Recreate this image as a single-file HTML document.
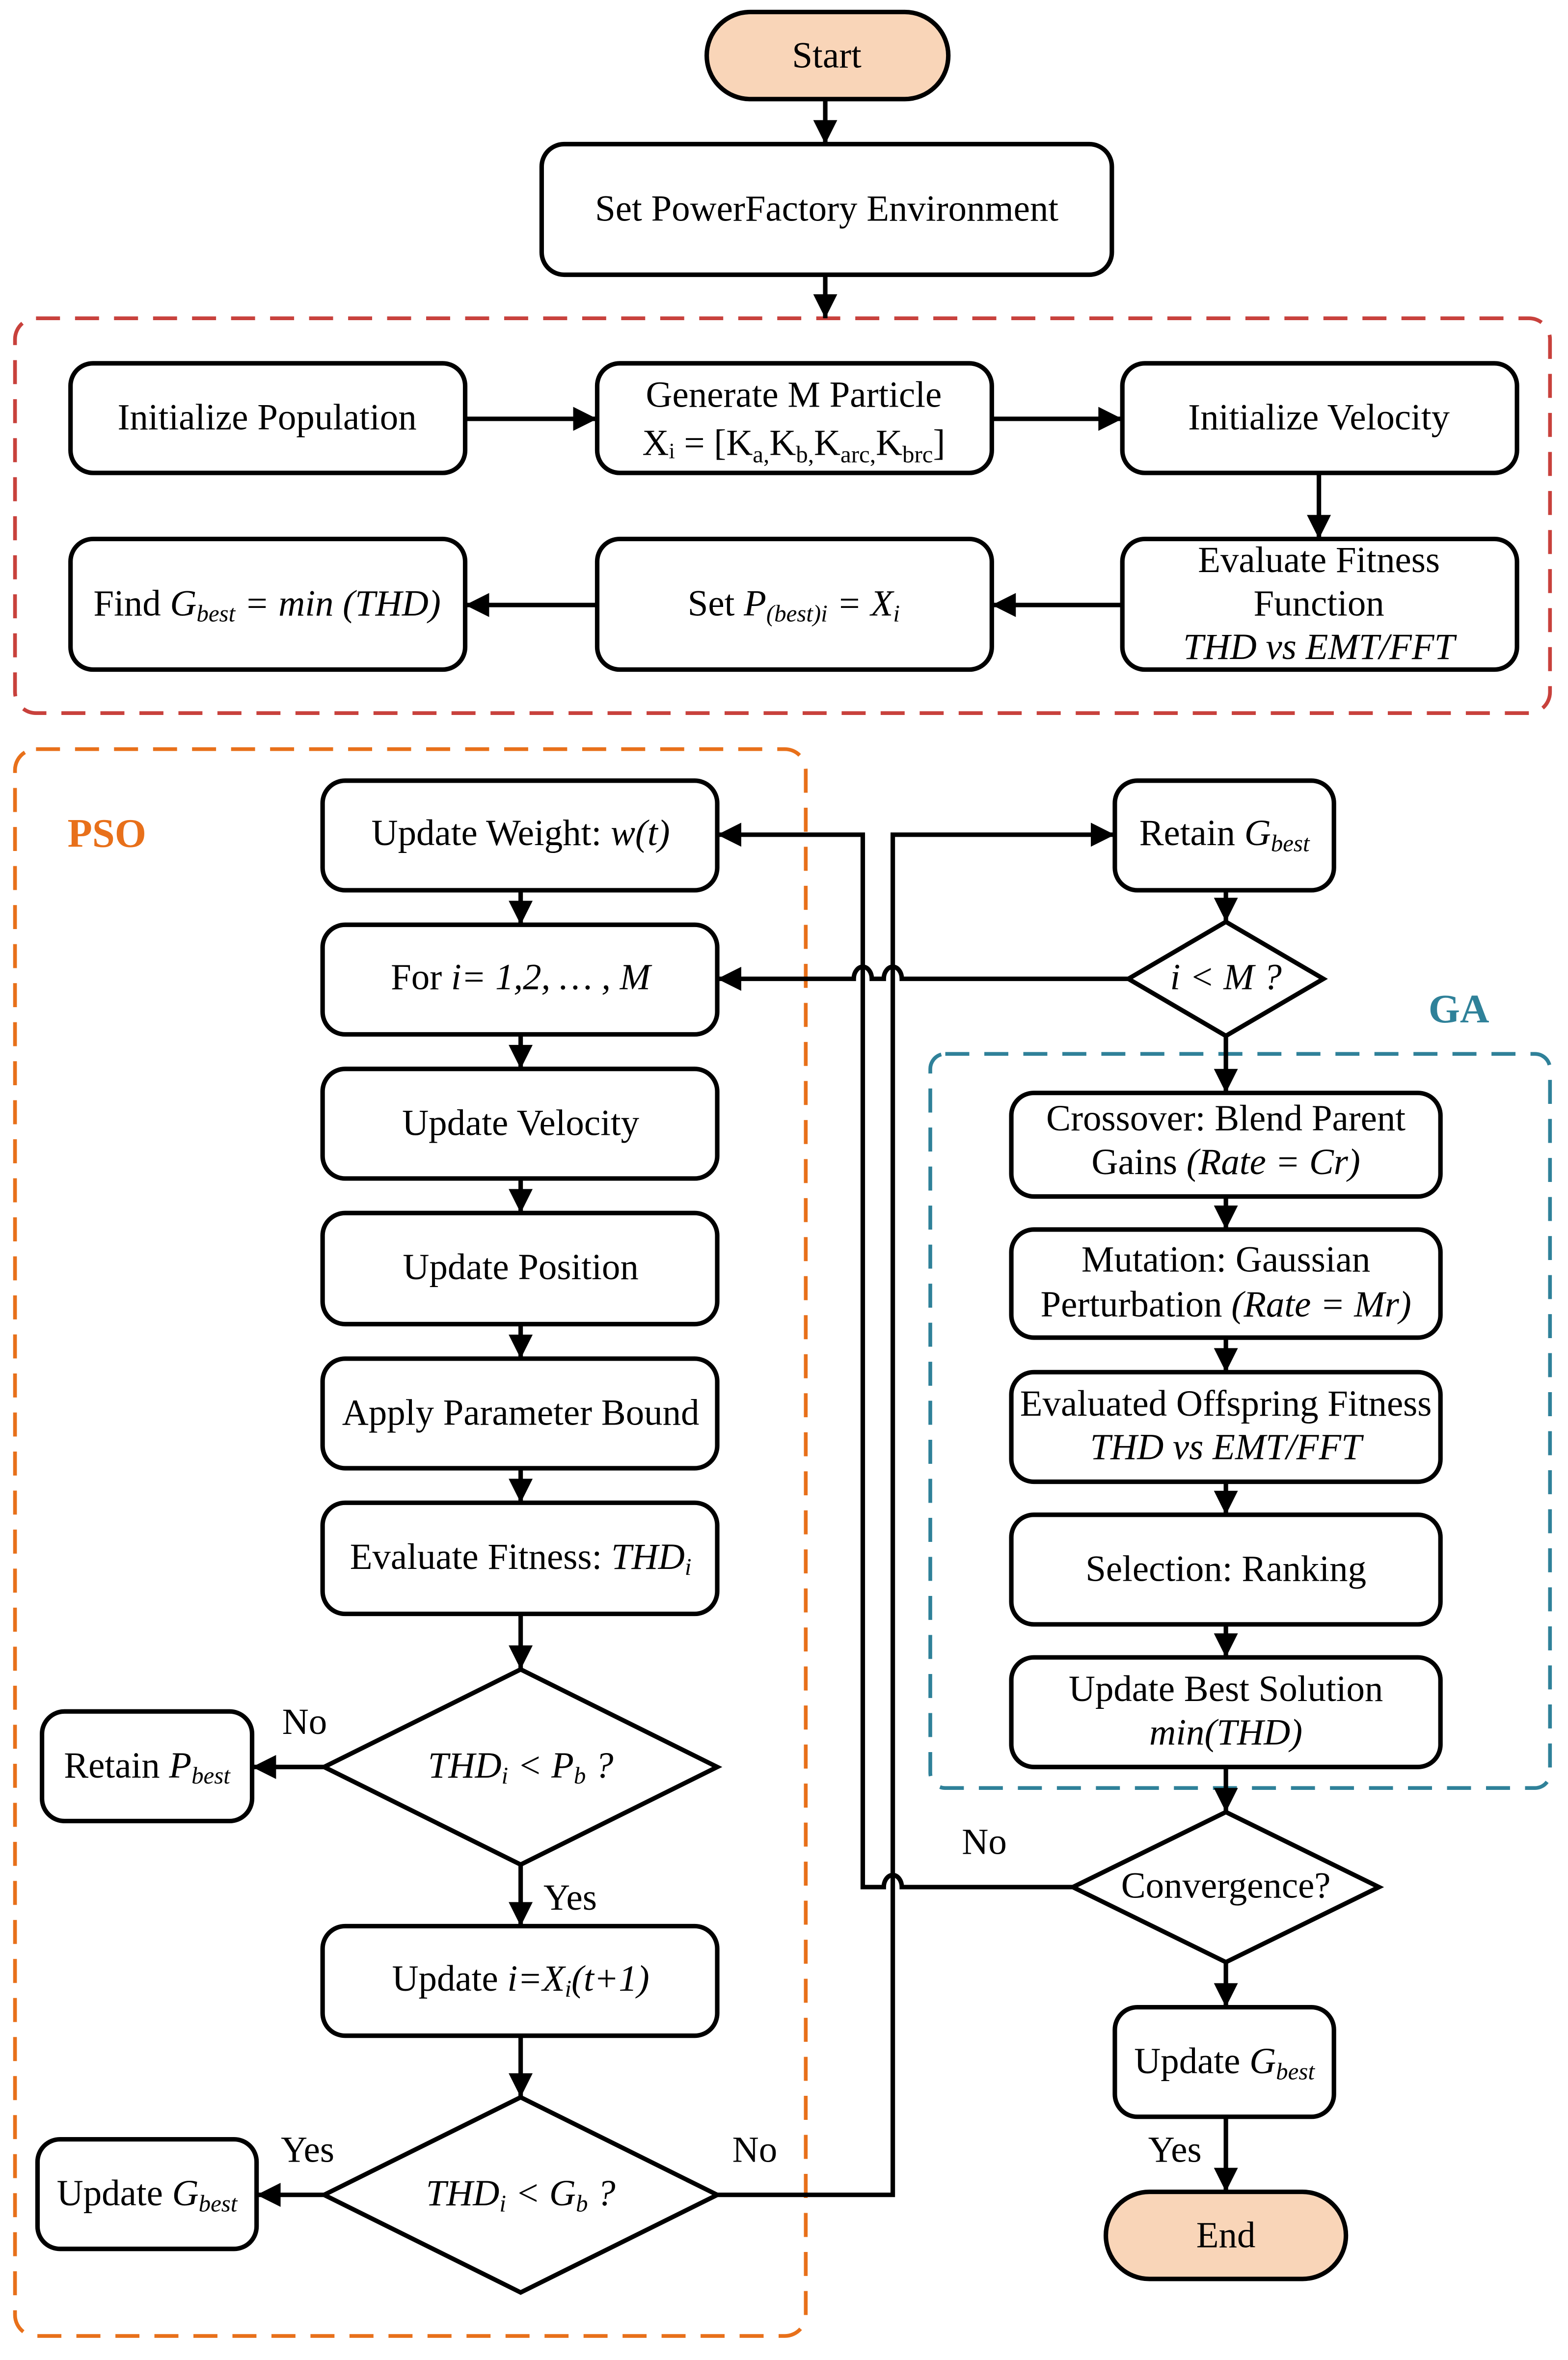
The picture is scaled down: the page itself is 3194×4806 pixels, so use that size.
<!DOCTYPE html>
<html><head><meta charset="utf-8"><style>html,body{margin:0;padding:0;background:#fff}svg{display:block}</style></head>
<body>
<svg xmlns="http://www.w3.org/2000/svg" width="3194" height="4806" viewBox="0 0 1045 1572" preserveAspectRatio="none" font-family="Liberation Serif, serif" font-size="24.5">
<defs>
<marker id="b" viewBox="0 0 10 10" refX="10" refY="5" markerWidth="20" markerHeight="16" markerUnits="userSpaceOnUse" orient="auto"><path d="M0,0L10,5L0,10z" fill="#000"/></marker>
</defs>
<g fill="none" stroke-width="2.5">
<rect x="10" y="212" width="1023" height="263" rx="14" stroke="#c8413c" stroke-dasharray="16,10"/>
<rect x="10" y="499" width="527" height="1057" rx="14" stroke="#e8701a" stroke-dasharray="16,10"/>
<rect x="620" y="702" width="413" height="489" rx="10" stroke="#2f8199" stroke-dasharray="16,10"/>
</g>
<g stroke="#000" stroke-width="3" fill="#fff">
<rect x="471" y="8" width="161" height="58" rx="29" fill="#f9d5b8"/>
<rect x="361" y="96" width="380" height="87" rx="15"/>
<rect x="47" y="242" width="263" height="73" rx="15"/>
<rect x="398" y="242" width="263" height="73" rx="15"/>
<rect x="748" y="242" width="263" height="73" rx="15"/>
<rect x="47" y="359" width="263" height="87" rx="15"/>
<rect x="398" y="359" width="263" height="87" rx="15"/>
<rect x="748" y="359" width="263" height="87" rx="15"/>
<rect x="215" y="520" width="263" height="73" rx="15"/>
<rect x="215" y="616" width="263" height="73" rx="15"/>
<rect x="215" y="712" width="263" height="73" rx="15"/>
<rect x="215" y="808" width="263" height="74" rx="15"/>
<rect x="215" y="905" width="263" height="73" rx="15"/>
<rect x="215" y="1001" width="263" height="74" rx="15"/>
<path d="M216,1177L347,1112L478,1177L347,1242Z"/>
<rect x="28" y="1140" width="140" height="73" rx="15"/>
<rect x="215" y="1283" width="263" height="73" rx="15"/>
<path d="M216,1462L347,1397L478,1462L347,1527Z"/>
<rect x="25" y="1425" width="146" height="73" rx="15"/>
<rect x="743" y="520" width="146" height="73" rx="15"/>
<path d="M752,652L817,614L882,652L817,690Z"/>
<rect x="674" y="728" width="286" height="69" rx="15"/>
<rect x="674" y="819" width="286" height="72" rx="15"/>
<rect x="674" y="914" width="286" height="73" rx="15"/>
<rect x="674" y="1009" width="286" height="73" rx="15"/>
<rect x="674" y="1104" width="286" height="73" rx="15"/>
<path d="M715,1257L817,1207L919,1257L817,1307Z"/>
<rect x="743" y="1337" width="146" height="73" rx="15"/>
<rect x="737" y="1460" width="160" height="58" rx="29" fill="#f9d5b8"/>
</g>
<g stroke="#000" stroke-width="3" fill="none" marker-end="url(#b)">
<path d="M550,66V96"/><path d="M550,183V212"/>
<path d="M310,279H398"/><path d="M661,279H748"/>
<path d="M879,315V359"/><path d="M748,403H661"/><path d="M398,403H310"/>
<path d="M347,593V616"/><path d="M347,689V712"/><path d="M347,785V808"/><path d="M347,882V905"/><path d="M347,978V1001"/><path d="M347,1075V1112"/>
<path d="M216,1177H168"/><path d="M347,1242V1283"/><path d="M347,1356V1397"/><path d="M216,1462H171"/>
<path d="M817,593V614"/><path d="M817,690V728"/><path d="M817,797V819"/><path d="M817,891V914"/><path d="M817,987V1009"/><path d="M817,1082V1104"/><path d="M817,1177V1207"/><path d="M817,1307V1337"/><path d="M817,1410V1460"/>
<path d="M752,652H601a6,8 0 0 0 -12,0H581a6,8 0 0 0 -12,0H478"/>
<path d="M478,1462H595V556H743"/>
<path d="M715,1257H601a6,8 0 0 0 -12,0H575V556H478"/>
</g>
<g text-anchor="middle">
<text x="551" y="45">Start</text>
<text x="551" y="147">Set PowerFactory Environment</text>
<text x="178" y="286">Initialize Population</text>
<text x="529" y="271">Generate M Particle</text>
<text x="529" y="303">Xᵢ = [K<tspan font-size="16" dy="5">a,</tspan><tspan dy="-5">K</tspan><tspan font-size="16" dy="5">b,</tspan><tspan dy="-5">K</tspan><tspan font-size="16" dy="5">arc,</tspan><tspan dy="-5">K</tspan><tspan font-size="16" dy="5">brc</tspan><tspan dy="-5">]</tspan></text>
<text x="879" y="286">Initialize Velocity</text>
<text x="178" y="410">Find <tspan font-style="italic">G<tspan font-size="16" dy="4">best</tspan><tspan dy="-4"> = min (THD)</tspan></tspan></text>
<text x="529" y="410">Set <tspan font-style="italic">P<tspan font-size="16" dy="4">(best)i</tspan><tspan dy="-4"> = X</tspan><tspan font-size="16" dy="4">i</tspan></tspan></text>
<text x="879" y="381">Evaluate Fitness</text>
<text x="879" y="410">Function</text>
<text x="879" y="439" font-style="italic">THD vs EMT/FFT</text>
<text x="347" y="563">Update Weight: <tspan font-style="italic">w(t)</tspan></text>
<text x="347" y="659">For <tspan font-style="italic">i= 1,2, … , M</tspan></text>
<text x="347" y="756">Update Velocity</text>
<text x="347" y="852">Update Position</text>
<text x="347" y="949">Apply Parameter Bound</text>
<text x="347" y="1045">Evaluate Fitness: <tspan font-style="italic">THD<tspan font-size="16" dy="4">i</tspan></tspan></text>
<text x="347" y="1184" font-style="italic">THD<tspan font-size="16" dy="4">i</tspan><tspan dy="-4"> &lt; P</tspan><tspan font-size="16" dy="4">b</tspan><tspan dy="-4"> ?</tspan></text>
<text x="98" y="1184">Retain <tspan font-style="italic">P<tspan font-size="16" dy="4">best</tspan></tspan></text>
<text x="347" y="1326">Update <tspan font-style="italic">i=X<tspan font-size="16" dy="4">i</tspan><tspan dy="-4">(t+1)</tspan></tspan></text>
<text x="347" y="1469" font-style="italic">THD<tspan font-size="16" dy="4">i</tspan><tspan dy="-4"> &lt; G</tspan><tspan font-size="16" dy="4">b</tspan><tspan dy="-4"> ?</tspan></text>
<text x="98" y="1469">Update <tspan font-style="italic">G<tspan font-size="16" dy="4">best</tspan></tspan></text>
<text x="816" y="563">Retain <tspan font-style="italic">G<tspan font-size="16" dy="4">best</tspan></tspan></text>
<text x="817" y="659" font-style="italic">i &lt; M ?</text>
<text x="817" y="753">Crossover: Blend Parent</text>
<text x="817" y="782">Gains <tspan font-style="italic">(Rate = Cr)</tspan></text>
<text x="817" y="847">Mutation: Gaussian</text>
<text x="817" y="877">Perturbation <tspan font-style="italic">(Rate = Mr)</tspan></text>
<text x="817" y="943">Evaluated Offspring Fitness</text>
<text x="817" y="972" font-style="italic">THD vs EMT/FFT</text>
<text x="817" y="1053">Selection: Ranking</text>
<text x="817" y="1133">Update Best Solution</text>
<text x="817" y="1162" font-style="italic">min(THD)</text>
<text x="817" y="1264">Convergence?</text>
<text x="816" y="1381">Update <tspan font-style="italic">G<tspan font-size="16" dy="4">best</tspan></tspan></text>
<text x="817" y="1497">End</text>
<text x="203" y="1155">No</text>
<text x="380" y="1272">Yes</text>
<text x="205" y="1440">Yes</text>
<text x="503" y="1440">No</text>
<text x="656" y="1235">No</text>
<text x="783" y="1440">Yes</text>
</g>
<text x="45" y="564" font-weight="bold" font-size="27" fill="#e8701a">PSO</text>
<text x="952" y="681" font-weight="bold" font-size="27" fill="#2f8199">GA</text>
</svg>
</body></html>
